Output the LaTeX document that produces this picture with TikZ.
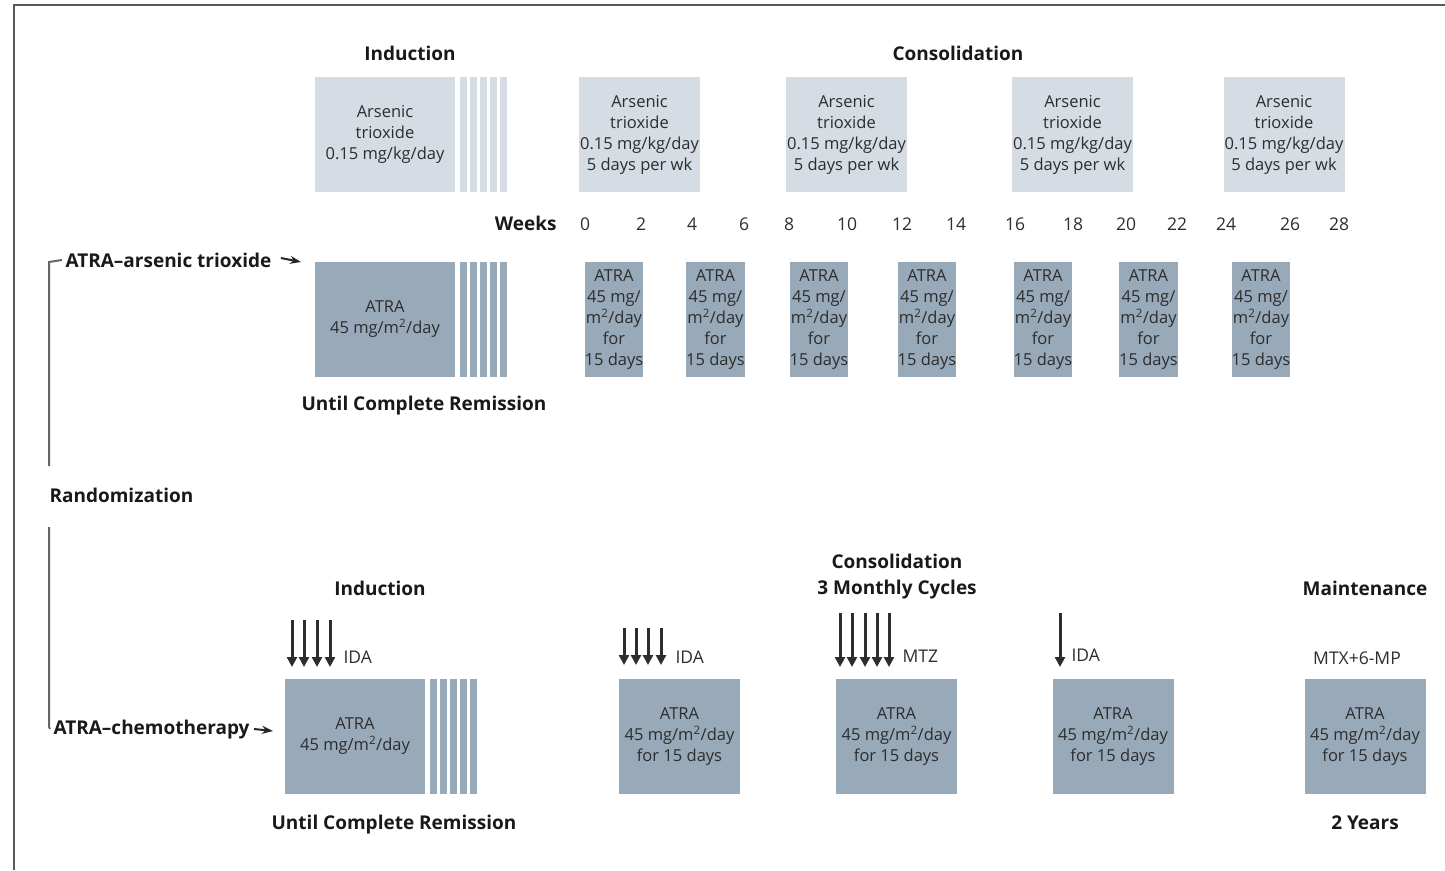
\documentclass[tikz,border=0pt]{standalone}
\usepackage{fontspec}
\setmainfont{Open Sans}
\usetikzlibrary{arrows.meta,positioning}
\definecolor{lightfill}{RGB}{213,220,228}
\definecolor{darkfill}{RGB}{152,169,186}
\definecolor{inkgray}{RGB}{45,45,45}
\begin{document}
\begin{tikzpicture}[x=1pt,y=-1pt,
            light box/.style={fill=lightfill,text=inkgray,align=center,inner sep=0pt,
                minimum width=121pt,minimum height=115pt,font=\fontsize{16.5}{21}\selectfont},
            dark box/.style={light box,fill=darkfill},
            narrow box/.style={dark box,minimum width=57pt},
            wide box/.style={minimum width=140pt},
            head/.style={font=\bfseries\fontsize{19}{26}\selectfont,text=black!90,align=center},
            note/.style={font=\fontsize{17.5}{21}\selectfont,text=inkgray},
            dose/.style={-{Triangle[width=10pt,length=10pt]},line width=3pt,inkgray},
            bracket/.style={line width=2pt,black!60},
            lab arrow/.style={-{Stealth[length=11pt,width=8pt]},line width=2pt,black!85}]

        \useasboundingbox (0,0) rectangle (1445,870);
        \draw[black!65,line width=2pt] (14,870) -- (14,5) -- (1445,5);

        % Arsenic trioxide arm
        \node[head] (indT) at (410,53) {Induction};
        \node[head] (conT) at (958,53) {Consolidation};
        \node[light box,wide box] (indAs) at (385,134.5) {Arsenic\\trioxide\\0.15 mg/kg/day};
        \foreach \s in {0,...,4}
            \fill[lightfill] ([xshift=5pt+10pt*\s]indAs.north east) rectangle ++(6.5,115);
        \foreach \n/\x in {1/639.5,2/846.5,3/1072.5,4/1284}
            \node[light box] (as\n) at (\x,134.5) {Arsenic\\trioxide\\0.15 mg/kg/day\\5 days per wk};

        \node[head,anchor=east] (weeks) at (560,223) {Weeks};
        \foreach \w/\x in {0/585,2/641,4/692,6/744,8/789,10/847,12/902,14/956,
                           16/1015,18/1073,20/1126,22/1177,24/1226,26/1290,28/1339}
            \node[note] (w\w) at (\x,224) {\w};

        \node[head,anchor=west] (aat) at (62,260) {ATRA–arsenic trioxide};
        \node[dark box,wide box] (indA) at (385,319.5) {ATRA\\45 mg/m\textsuperscript{2}/day};
        \foreach \s in {0,...,4}
            \fill[darkfill] ([xshift=5pt+10pt*\s]indA.north east) rectangle ++(6.5,115);
        \foreach \n/\x in {1/614,2/715.5,3/819,4/927,5/1043,6/1148.5,7/1261}
            \node[narrow box] (at\n) at (\x,319.5) {ATRA\\45 mg/\\m\textsuperscript{2}/day\\for\\15 days};
        \node[head] (ucrA) at (424,406) {Until Complete Remission};

        % randomization bracket
        \node[head,anchor=west] (rand) at (46,495) {Randomization};
        \node[head,anchor=west] (chem) at (50,730) {ATRA–chemotherapy};
        \coordinate (brtop) at (49,262);
        \coordinate (brmid) at (49,466);
        \coordinate (brlow) at (49,527);
        \coordinate (brbot) at (49,727);
        \coordinate (aatend) at (301,262);
        \coordinate (chemend) at (273,731);
        \draw[bracket] (aat.west) -- (brtop) -- (brmid);
        \draw[bracket] (brlow) -- (brbot) -- ([yshift=1pt]chem.west);
        \draw[lab arrow] ([xshift=6pt,yshift=2pt]aat.east) -- (aatend);
        \draw[lab arrow] ([xshift=1pt,yshift=1pt]chem.east) -- (chemend);

        % chemotherapy arm
        \node[head] (indB) at (380,588) {Induction};
        \node[head] (conB) at (897,577) {Consolidation\\3 Monthly Cycles};
        \node[head] (mnt) at (1365,588) {Maintenance};
        \node[dark box,wide box] (indC) at (355,736.5) {ATRA\\45 mg/m\textsuperscript{2}/day};
        \foreach \s in {0,...,4}
            \fill[darkfill] ([xshift=5pt+10pt*\s]indC.north east) rectangle ++(6.5,115);
        \foreach \n/\x in {1/679.5,2/896.5,3/1113,4/1365}
            \node[dark box] (cc\n) at (\x,736.5) {ATRA\\45 mg/m\textsuperscript{2}/day\\for 15 days};
        \node[head] (ucrC) at (394,825) {Until Complete Remission};
        \node[head] (yrs) at (1365,823) {2 Years};

        % drug doses
        \foreach \x in {292,304,317,330} \draw[dose] (\x,620) -- (\x,667);
        \foreach \x in {624,636,648,661} \draw[dose] (\x,628) -- (\x,665);
        \foreach \x in {840,852,865,877,889} \draw[dose] (\x,613) -- (\x,667);
        \draw[dose] (1060,613) -- (1060,667);
        \node[note,anchor=west] (ida1) at (340,657) {IDA};
        \node[note,anchor=west] (ida2) at (672,657) {IDA};
        \node[note,anchor=west] (mtz) at (899,656) {MTZ};
        \node[note,anchor=west] (ida3) at (1068,655) {IDA};
        \node[note] (mtx) at (1357,658) {MTX+6-MP};

\end{tikzpicture}
\end{document}
